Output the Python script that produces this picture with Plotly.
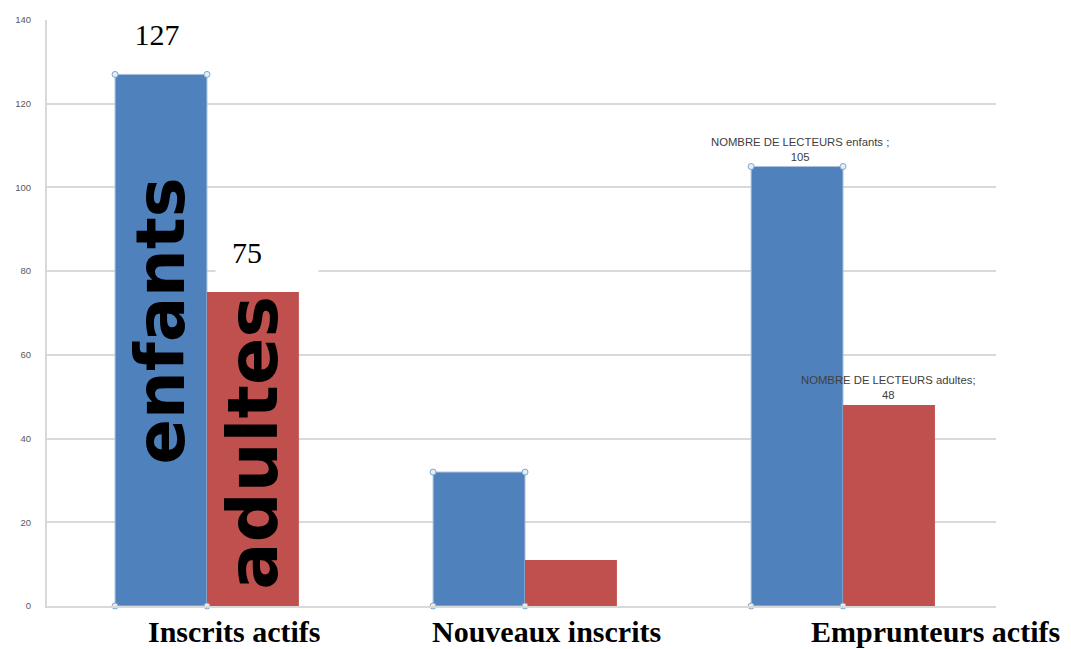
import plotly.graph_objects as go

categories = ["Inscrits actifs", "Nouveaux inscrits", "Emprunteurs actifs"]
enfants = [127, 32, 105]
adultes = [75, 11, 48]
y_ticks = [0, 20, 40, 60, 80, 100, 120, 140]

BLUE = "#4F81BD"
RED = "#C0504D"
W = 0.289  # bar width in category units

xs = list(range(len(categories)))

fig = go.Figure()
fig.add_trace(go.Bar(x=xs, y=enfants, width=W, offset=-W, marker=dict(color=BLUE, line=dict(color="#A9C1DA", width=1)),
                     name="enfants", showlegend=False, hoverinfo="skip"))
fig.add_trace(go.Bar(x=xs, y=adultes, width=W, offset=0, marker=dict(color=RED, line=dict(width=0)),
                     name="adultes", showlegend=False, hoverinfo="skip"))

# selection handles at corners of blue bars
hx, hy = [], []
for i, v in zip(xs, enfants):
    hx += [i - W, i, i - W, i]
    hy += [v, v, 0, 0]
fig.add_trace(go.Scatter(x=hx, y=hy, mode="markers", showlegend=False, hoverinfo="skip", cliponaxis=False,
                         marker=dict(size=6, color="#E4EEF7", line=dict(color="#7FA7C9", width=1))))

ann = []
# category labels
cat_shift = [27, 21, 92]
for i, (c, s) in enumerate(zip(categories, cat_shift)):
    ann.append(dict(x=i, y=0, xref="x", yref="y", text="<b>" + c + "</b>", showarrow=False, yanchor="top",
                    yshift=-7, xshift=s,
                    font=dict(family="Liberation Serif", size=30, color="#000000")))
# big value labels (white boxes interrupt gridlines)
ann.append(dict(x=0 - W / 2 - 0.02, y=enfants[0], xref="x", yref="y", text=str(enfants[0]), showarrow=False,
                yanchor="bottom", yshift=16, bgcolor="white", width=100, height=44, xshift=2,
                font=dict(family="Liberation Serif", size=30, color="#000000")))
ann.append(dict(x=0 + W / 2, y=adultes[0], xref="x", yref="y", text=" ", showarrow=False,
                yanchor="bottom", yshift=16, bgcolor="white", width=100, height=44, xshift=14,
                font=dict(family="Liberation Serif", size=30, color="#000000")))
ann.append(dict(x=0 + W / 2 - 0.02, y=adultes[0], xref="x", yref="y", text=str(adultes[0]), showarrow=False,
                yanchor="bottom", yshift=16, height=44,
                font=dict(family="Liberation Serif", size=30, color="#000000")))
# rotated text
ann.append(dict(x=0 - W / 2, y=68, xref="x", yref="y", text="<b>enfants</b>", showarrow=False, textangle=-90,
                font=dict(family="DejaVu Sans", size=67, color="#000000")))
ann.append(dict(x=0 + W / 2, y=39, xref="x", yref="y", text="<b>adultes</b>", showarrow=False, textangle=-90,
                font=dict(family="DejaVu Sans", size=70, color="#000000")))
# small data labels
ann.append(dict(x=2 - W / 2, y=enfants[2], xref="x", yref="y",
                text="NOMBRE DE LECTEURS enfants ;<br>" + str(enfants[2]), showarrow=False,
                yanchor="bottom", yshift=2, xshift=3,
                font=dict(family="Liberation Sans", size=11.3, color="#404040")))
ann.append(dict(x=2 + W / 2, y=adultes[2], xref="x", yref="y",
                text="NOMBRE DE LECTEURS adultes;<br>" + str(adultes[2]), showarrow=False,
                yanchor="bottom", yshift=2, xshift=0,
                font=dict(family="Liberation Sans", size=11.3, color="#404040")))

fig.update_layout(
    width=1071, height=649,
    margin=dict(l=39, r=83, t=12, b=51),
    paper_bgcolor="white", plot_bgcolor="white",
    barmode="overlay",
    annotations=ann,
    xaxis=dict(range=[-0.503, 2.481], showticklabels=False, showgrid=False, zeroline=False,
               showline=True, linecolor="#D9D9D9", linewidth=2, ticks=""),
    yaxis=dict(range=[0, 140], tickvals=y_ticks, ticktext=[str(t) for t in y_ticks], automargin=False,
               showgrid=True, gridcolor="#D9D9D9", gridwidth=2, zeroline=False,
               showline=True, linecolor="#D9D9D9", linewidth=2, ticks="", ticklabelstandoff=12,
               tickfont=dict(family="Liberation Sans", size=9.5, color="#595959")),
)

fig.write_html("out.html")
